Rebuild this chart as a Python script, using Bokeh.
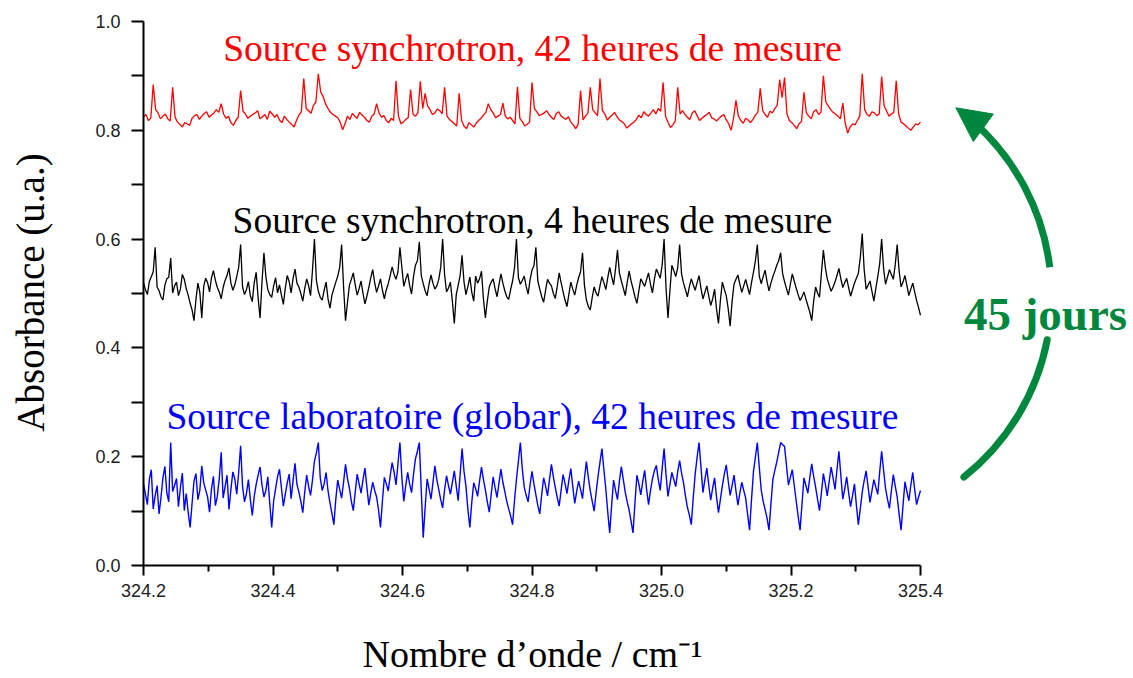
import numpy as np
from bokeh.plotting import figure
from bokeh.models import Label, Arrow, NormalHead, Range1d, FixedTicker, PrintfTickFormatter
from bokeh.embed import file_html
from bokeh.resources import INLINE

# ---------------- data ----------------
x_start_wn = 324.2
x_end_wn = 325.4

red_42h = [
    0.825, 0.829, 0.818, 0.822, 0.884, 0.838, 0.832, 0.821, 0.826, 0.830,
    0.821, 0.817, 0.879, 0.824, 0.815, 0.811, 0.806, 0.814, 0.812, 0.809,
    0.822, 0.827, 0.829, 0.820, 0.826, 0.831, 0.834, 0.824, 0.828, 0.832,
    0.838, 0.833, 0.849, 0.830, 0.822, 0.826, 0.814, 0.809, 0.818, 0.824,
    0.873, 0.835, 0.830, 0.822, 0.826, 0.829, 0.832, 0.836, 0.821, 0.825,
    0.829, 0.820, 0.835, 0.830, 0.824, 0.829, 0.819, 0.814, 0.826, 0.820,
    0.815, 0.811, 0.806, 0.818, 0.828, 0.834, 0.895, 0.840, 0.836, 0.831,
    0.846, 0.852, 0.904, 0.870, 0.862, 0.848, 0.840, 0.833, 0.829, 0.826,
    0.823, 0.815, 0.801, 0.812, 0.826, 0.820, 0.831, 0.826, 0.822, 0.833,
    0.828, 0.824, 0.818, 0.815, 0.826, 0.830, 0.849, 0.832, 0.824, 0.827,
    0.818, 0.814, 0.822, 0.818, 0.891, 0.826, 0.812, 0.815, 0.820, 0.823,
    0.875, 0.830, 0.826, 0.832, 0.890, 0.840, 0.868, 0.845, 0.838, 0.829,
    0.832, 0.839, 0.836, 0.830, 0.879, 0.826, 0.820, 0.816, 0.812, 0.808,
    0.868, 0.818, 0.808, 0.803, 0.814, 0.810, 0.806, 0.813, 0.818, 0.822,
    0.828, 0.833, 0.849, 0.838, 0.832, 0.823, 0.826, 0.829, 0.850, 0.826,
    0.821, 0.824, 0.818, 0.812, 0.880, 0.822, 0.816, 0.808, 0.811, 0.815,
    0.888, 0.840, 0.834, 0.827, 0.829, 0.832, 0.836, 0.829, 0.824, 0.820,
    0.831, 0.834, 0.826, 0.823, 0.820, 0.825, 0.815, 0.810, 0.803, 0.811,
    0.873, 0.819, 0.826, 0.831, 0.879, 0.838, 0.832, 0.827, 0.895, 0.836,
    0.830, 0.819, 0.824, 0.828, 0.833, 0.825, 0.819, 0.816, 0.812, 0.804,
    0.808, 0.812, 0.815, 0.820, 0.828, 0.823, 0.834, 0.829, 0.826, 0.832,
    0.838, 0.830, 0.840, 0.835, 0.888, 0.826, 0.815, 0.805, 0.810, 0.817,
    0.879, 0.830, 0.836, 0.829, 0.824, 0.820, 0.832, 0.836, 0.827, 0.818,
    0.822, 0.826, 0.829, 0.833, 0.823, 0.821, 0.817, 0.822, 0.826, 0.829,
    0.819, 0.812, 0.800, 0.822, 0.855, 0.826, 0.818, 0.813, 0.822, 0.819,
    0.814, 0.820, 0.828, 0.833, 0.877, 0.836, 0.829, 0.824, 0.835, 0.832,
    0.840, 0.846, 0.893, 0.860, 0.897, 0.830, 0.818, 0.814, 0.809, 0.803,
    0.812, 0.816, 0.870, 0.832, 0.826, 0.821, 0.834, 0.838, 0.829, 0.833,
    0.900, 0.852, 0.845, 0.838, 0.833, 0.830, 0.826, 0.821, 0.850, 0.813,
    0.795, 0.806, 0.812, 0.810, 0.818, 0.826, 0.904, 0.838, 0.829, 0.826,
    0.834, 0.832, 0.827, 0.830, 0.899, 0.845, 0.836, 0.826, 0.830, 0.833,
    0.891, 0.830, 0.815, 0.812, 0.808, 0.804, 0.800, 0.806, 0.812, 0.810,
    0.815,
]

black_4h = [
    0.520, 0.507, 0.498, 0.522, 0.531, 0.540, 0.585, 0.512, 0.505, 0.494,
    0.488, 0.515, 0.527, 0.530, 0.565, 0.501, 0.514, 0.521, 0.496, 0.508,
    0.535, 0.526, 0.509, 0.497, 0.482, 0.470, 0.450, 0.489, 0.519, 0.502,
    0.455, 0.513, 0.528, 0.520, 0.503, 0.529, 0.542, 0.524, 0.511, 0.503,
    0.490, 0.511, 0.524, 0.533, 0.547, 0.519, 0.506, 0.516, 0.531, 0.548,
    0.590, 0.512, 0.498, 0.507, 0.522, 0.496, 0.485, 0.520, 0.539, 0.492,
    0.455, 0.521, 0.575, 0.531, 0.507, 0.498, 0.493, 0.514, 0.529, 0.501,
    0.516, 0.497, 0.480, 0.510, 0.533, 0.522, 0.501, 0.528, 0.545, 0.519,
    0.512, 0.500, 0.486, 0.509, 0.527, 0.514, 0.496, 0.543, 0.600, 0.524,
    0.504, 0.493, 0.488, 0.506, 0.521, 0.490, 0.473, 0.497, 0.509, 0.521,
    0.532, 0.548, 0.590, 0.512, 0.450, 0.483, 0.515, 0.526, 0.538, 0.516,
    0.497, 0.509, 0.523, 0.500, 0.481, 0.495, 0.511, 0.529, 0.544, 0.520,
    0.502, 0.514, 0.527, 0.506, 0.490, 0.507, 0.518, 0.533, 0.549, 0.535,
    0.526, 0.540, 0.585, 0.548, 0.513, 0.526, 0.537, 0.515, 0.499, 0.531,
    0.552, 0.560, 0.595, 0.533, 0.518, 0.505, 0.496, 0.517, 0.534, 0.519,
    0.508, 0.514, 0.526, 0.548, 0.600, 0.535, 0.503, 0.510, 0.521, 0.486,
    0.445, 0.498, 0.515, 0.533, 0.570, 0.521, 0.498, 0.513, 0.530, 0.502,
    0.486, 0.532, 0.519, 0.527, 0.541, 0.490, 0.455, 0.486, 0.512, 0.521,
    0.527, 0.509, 0.494, 0.516, 0.536, 0.519, 0.505, 0.494, 0.489, 0.507,
    0.523, 0.547, 0.600, 0.529, 0.517, 0.524, 0.532, 0.513, 0.499, 0.525,
    0.543, 0.551, 0.585, 0.523, 0.508, 0.494, 0.484, 0.506, 0.526, 0.519,
    0.514, 0.500, 0.491, 0.513, 0.538, 0.520, 0.503, 0.488, 0.476, 0.499,
    0.521, 0.508, 0.497, 0.515, 0.529, 0.540, 0.575, 0.515, 0.488, 0.476,
    0.470, 0.493, 0.512, 0.501, 0.495, 0.514, 0.531, 0.520, 0.507, 0.529,
    0.548, 0.531, 0.516, 0.545, 0.580, 0.538, 0.523, 0.510, 0.496, 0.520,
    0.541, 0.523, 0.509, 0.494, 0.482, 0.505, 0.527, 0.520, 0.513, 0.526,
    0.538, 0.517, 0.501, 0.526, 0.545, 0.537, 0.528, 0.552, 0.600, 0.510,
    0.455, 0.505, 0.552, 0.542, 0.531, 0.547, 0.590, 0.536, 0.519, 0.507,
    0.494, 0.512, 0.527, 0.516, 0.506, 0.520, 0.533, 0.509, 0.490, 0.502,
    0.514, 0.495, 0.478, 0.490, 0.508, 0.471, 0.445, 0.488, 0.521, 0.508,
    0.496, 0.472, 0.440, 0.485, 0.517, 0.526, 0.534, 0.517, 0.502, 0.514,
    0.526, 0.512, 0.498, 0.520, 0.539, 0.560, 0.590, 0.532, 0.518, 0.531,
    0.543, 0.522, 0.505, 0.519, 0.531, 0.541, 0.552, 0.560, 0.575, 0.537,
    0.522, 0.509, 0.497, 0.517, 0.536, 0.523, 0.510, 0.498, 0.487, 0.494,
    0.503, 0.490, 0.478, 0.466, 0.450, 0.486, 0.512, 0.501, 0.493, 0.538,
    0.580, 0.548, 0.527, 0.515, 0.504, 0.512, 0.521, 0.533, 0.546, 0.527,
    0.511, 0.520, 0.528, 0.511, 0.495, 0.507, 0.519, 0.528, 0.537, 0.566,
    0.610, 0.544, 0.508, 0.515, 0.523, 0.504, 0.486, 0.509, 0.531, 0.555,
    0.600, 0.546, 0.517, 0.530, 0.544, 0.535, 0.526, 0.553, 0.590, 0.541,
    0.512, 0.521, 0.533, 0.515, 0.496, 0.508, 0.519, 0.503, 0.487, 0.474,
    0.460,
]

blue_globar = [
    0.150, 0.131, 0.112, 0.158, 0.176, 0.104, 0.128, 0.147, 0.095, 0.125,
    0.161, 0.182, 0.134, 0.117, 0.226, 0.136, 0.147, 0.160, 0.108, 0.143,
    0.170, 0.101, 0.132, 0.098, 0.070, 0.114, 0.155, 0.169, 0.121, 0.138,
    0.183, 0.152, 0.139, 0.126, 0.098, 0.141, 0.164, 0.110, 0.127, 0.160,
    0.208, 0.124, 0.145, 0.166, 0.103, 0.140, 0.172, 0.159, 0.131, 0.171,
    0.220, 0.145, 0.117, 0.132, 0.158, 0.121, 0.092, 0.127, 0.149, 0.166,
    0.181, 0.148, 0.126, 0.138, 0.163, 0.114, 0.070, 0.119, 0.141, 0.163,
    0.177, 0.143, 0.109, 0.131, 0.152, 0.168, 0.123, 0.156, 0.188, 0.149,
    0.135, 0.118, 0.097, 0.135, 0.166, 0.145, 0.129, 0.157, 0.192, 0.207,
    0.226, 0.161, 0.138, 0.150, 0.171, 0.137, 0.115, 0.096, 0.075, 0.122,
    0.157, 0.140, 0.124, 0.153, 0.186, 0.160, 0.142, 0.118, 0.101, 0.135,
    0.168, 0.150, 0.133, 0.158, 0.179, 0.144, 0.111, 0.133, 0.153, 0.138,
    0.126, 0.102, 0.070, 0.119, 0.162, 0.150, 0.137, 0.165, 0.189, 0.172,
    0.148, 0.187, 0.226, 0.162, 0.118, 0.147, 0.171, 0.150, 0.134, 0.168,
    0.196, 0.210, 0.226, 0.138, 0.051, 0.107, 0.159, 0.141, 0.122, 0.152,
    0.183, 0.158, 0.140, 0.121, 0.106, 0.139, 0.165, 0.147, 0.131, 0.153,
    0.174, 0.146, 0.119, 0.167, 0.215, 0.173, 0.146, 0.103, 0.070, 0.116,
    0.152, 0.141, 0.127, 0.155, 0.181, 0.158, 0.139, 0.117, 0.098, 0.131,
    0.163, 0.143, 0.125, 0.152, 0.177, 0.153, 0.136, 0.118, 0.104, 0.091,
    0.075, 0.120, 0.158, 0.192, 0.226, 0.178, 0.144, 0.129, 0.117, 0.148,
    0.173, 0.150, 0.130, 0.110, 0.095, 0.131, 0.161, 0.146, 0.128, 0.158,
    0.186, 0.163, 0.143, 0.125, 0.109, 0.139, 0.167, 0.151, 0.132, 0.157,
    0.178, 0.145, 0.114, 0.136, 0.155, 0.140, 0.123, 0.160, 0.191, 0.162,
    0.137, 0.118, 0.100, 0.134, 0.164, 0.190, 0.215, 0.176, 0.141, 0.098,
    0.060, 0.111, 0.157, 0.138, 0.121, 0.155, 0.182, 0.158, 0.135, 0.117,
    0.102, 0.081, 0.060, 0.115, 0.166, 0.150, 0.130, 0.154, 0.175, 0.140,
    0.112, 0.138, 0.159, 0.174, 0.184, 0.158, 0.138, 0.178, 0.215, 0.167,
    0.127, 0.149, 0.171, 0.158, 0.145, 0.172, 0.193, 0.170, 0.152, 0.128,
    0.107, 0.093, 0.075, 0.124, 0.168, 0.199, 0.226, 0.180, 0.134, 0.158,
    0.179, 0.148, 0.120, 0.142, 0.161, 0.126, 0.097, 0.122, 0.147, 0.168,
    0.185, 0.156, 0.129, 0.147, 0.166, 0.137, 0.111, 0.133, 0.153, 0.138,
    0.124, 0.094, 0.065, 0.121, 0.172, 0.199, 0.226, 0.181, 0.139, 0.118,
    0.103, 0.087, 0.065, 0.113, 0.158, 0.175, 0.190, 0.208, 0.226, 0.222,
    0.219, 0.184, 0.148, 0.162, 0.176, 0.147, 0.119, 0.091, 0.065, 0.113,
    0.161, 0.147, 0.133, 0.161, 0.187, 0.164, 0.144, 0.122, 0.101, 0.134,
    0.169, 0.150, 0.128, 0.155, 0.181, 0.161, 0.140, 0.176, 0.210, 0.165,
    0.122, 0.141, 0.163, 0.134, 0.108, 0.128, 0.150, 0.111, 0.075, 0.104,
    0.135, 0.156, 0.174, 0.145, 0.116, 0.137, 0.158, 0.144, 0.131, 0.172,
    0.210, 0.175, 0.142, 0.122, 0.105, 0.137, 0.167, 0.146, 0.126, 0.094,
    0.065, 0.110, 0.154, 0.136, 0.119, 0.147, 0.171, 0.140, 0.112, 0.126,
    0.138,
]

x_ticks = [324.2, 324.4, 324.6, 324.8, 325.0, 325.2, 325.4]
x_minor = [324.3, 324.5, 324.7, 324.9, 325.1, 325.3]
y_ticks = [0.0, 0.2, 0.4, 0.6, 0.8, 1.0]
y_minor = [0.1, 0.3, 0.5, 0.7, 0.9]

label_red = "Source synchrotron, 42 heures de mesure"
label_black = "Source synchrotron, 4 heures de mesure"
label_blue = "Source laboratoire (globar), 42 heures de mesure"
label_days = "45 jours"
x_title = "Nombre d\u2019onde / cm\u207b\u00b9"
y_title = "Absorbance (u.a.)"

# ---------------- layout ----------------
# The plot frame covers the whole canvas; both axes are pinned inside it.
W, H = 1130, 676
AX_LEFT_PX = 143      # picture x of the y axis (x = 324.2)
AX_BOTTOM_PX = 565    # picture y of the x axis (y = 0)
PX_PER_X = 647.5      # 1.2 cm-1 spans 777 px
PX_PER_Y = 544.0      # 1.0 absorbance spans 544 px

def px2x(px):
    return x_start_wn + (px - AX_LEFT_PX) / PX_PER_X

def py2y(py):
    return (AX_BOTTOM_PX - py) / PX_PER_Y

p = figure(width=W, height=H, output_backend="svg", toolbar_location=None,
           x_range=Range1d(px2x(0), px2x(W)), y_range=Range1d(py2y(H), py2y(0)),
           min_border_left=0, min_border_right=0, min_border_top=0,
           min_border_bottom=0)
p.title.visible = False
p.outline_line_color = None
p.grid.visible = False
p.background_fill_color = "white"
p.border_fill_color = "white"

green = "#00873e"
serif = "Liberation Serif"

# traces
for ys, col, lw in [(blue_globar, "#0000ff", 1.4), (black_4h, "#000000", 1.3),
                    (red_42h, "#ff0000", 1.3)]:
    xs = np.linspace(x_start_wn, x_end_wn, len(ys))
    p.line(xs, ys, line_color=col, line_width=lw)

# axes (pinned at x = 324.2 and y = 0)
for ax in (p.xaxis, p.yaxis):
    ax.axis_line_width = 2
    ax.axis_line_color = "black"
    ax.major_tick_line_width = 2
    ax.minor_tick_line_width = 2
    ax.major_tick_in = 0
    ax.minor_tick_in = 0
    ax.major_label_text_font = "Liberation Sans"
    ax.major_label_text_font_size = "18px"
    ax.major_label_text_color = "#222222"
    ax.major_label_text_font_style = "normal"

p.xaxis.fixed_location = 0.0
p.yaxis.fixed_location = x_start_wn
p.xaxis.ticker = FixedTicker(ticks=x_ticks, minor_ticks=x_minor)
p.yaxis.ticker = FixedTicker(ticks=y_ticks, minor_ticks=y_minor)
p.xaxis.formatter = PrintfTickFormatter(format="%.1f")
p.yaxis.formatter = PrintfTickFormatter(format="%.1f")
p.xaxis.bounds = (x_start_wn, x_end_wn)
p.yaxis.bounds = (0.0, 1.0)
p.xaxis.major_tick_out = 10
p.xaxis.minor_tick_out = 6
p.yaxis.major_tick_out = 12
p.yaxis.minor_tick_out = 12
p.xaxis.major_label_standoff = 8
p.yaxis.major_label_standoff = 11

# axis titles
p.add_layout(Label(x=px2x(532), y=py2y(653), text=x_title, text_font=serif,
                   text_font_size="38px", text_color="black",
                   text_align="center", text_baseline="alphabetic"))
p.add_layout(Label(x=px2x(30), y=py2y(292), text=y_title, text_font=serif,
                   text_font_size="39px", text_color="black", angle=np.pi / 2,
                   text_align="center", text_baseline="middle"))

# series labels
for txt, col, yb in [(label_red, "#ff0000", py2y(48)),
                     (label_black, "#000000", py2y(220)),
                     (label_blue, "#0000ff", py2y(416))]:
    p.add_layout(Label(x=px2x(532), y=yb, text=txt, text_font=serif,
                       text_font_size="37.5px", text_color=col,
                       text_align="center", text_baseline="alphabetic"))

# curved arrow "45 jours"
cx, cy, r = 819, 295, 232
p.arc(x=[px2x(cx)], y=[py2y(cy)], radius=r, radius_units="screen",
      start_angle=np.deg2rad(-51.5), end_angle=np.deg2rad(-11.0),
      direction="anticlock", line_color=green, line_width=7, line_cap="round")
p.arc(x=[px2x(cx)], y=[py2y(cy)], radius=r, radius_units="screen",
      start_angle=np.deg2rad(7.0), end_angle=np.deg2rad(48.5),
      direction="anticlock", line_color=green, line_width=7)
tip_a = np.deg2rad(54.0)
tipx, tipy = cx + r * np.cos(tip_a), cy - r * np.sin(tip_a)
bx, by = tipx + 0.81 * 14, tipy + 0.59 * 14
p.add_layout(Arrow(end=NormalHead(size=34, fill_color=green, line_color=green, line_width=1),
                   x_start=px2x(bx), y_start=py2y(by), x_end=px2x(tipx), y_end=py2y(tipy),
                   line_color=green, line_width=2))

p.add_layout(Label(x=px2x(1045), y=py2y(313), text=label_days, text_font=serif,
                   text_font_size="47px", text_font_style="bold", text_color=green,
                   text_align="center", text_baseline="alphabetic"))

open("out.html", "w").write(file_html(p, INLINE))
